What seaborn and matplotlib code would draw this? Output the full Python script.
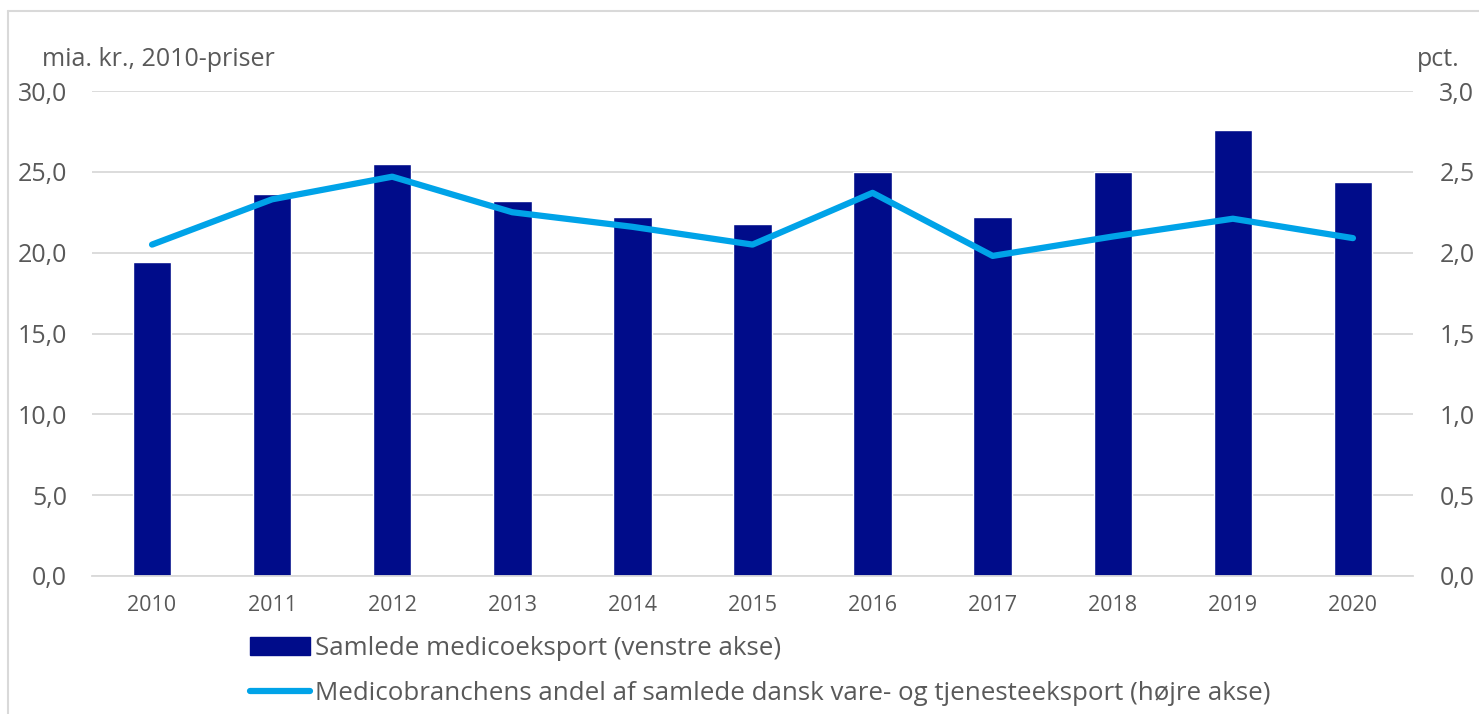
import matplotlib
matplotlib.use("Agg")
import matplotlib.pyplot as plt
import seaborn as sns
import pandas as pd
from matplotlib.lines import Line2D
from matplotlib.patches import Patch
from matplotlib.ticker import FuncFormatter, MultipleLocator

years = ['2010', '2011', '2012', '2013', '2014', '2015', '2016', '2017', '2018', '2019', '2020']
eksport = [19.4, 23.6, 25.5, 23.2, 22.2, 21.8, 25.0, 22.2, 25.0, 27.6, 24.4]
andel = [2.05, 2.33, 2.47, 2.25, 2.16, 2.05, 2.37, 1.98, 2.10, 2.21, 2.09]

bar_label = 'Samlede medicoeksport (venstre akse)'
line_label = 'Medicobranchens andel af samlede dansk vare- og tjenesteeksport (højre akse)'

navy = '#000C8A'
light = '#00A3E8'
grey = '#595959'

sns.set_theme(style='white')
plt.rcParams['font.family'] = ['Open Sans', 'DejaVu Sans']

df = pd.DataFrame({'year': years, 'eksport': eksport, 'andel': andel})

fig = plt.figure(figsize=(14.79, 7.14), dpi=100)
ax = fig.add_axes([92 / 1479, 1 - 576 / 714, (1413 - 92) / 1479, (576 - 91) / 714])

sns.barplot(data=df, x='year', y='eksport', color=navy, width=0.32, saturation=1, ax=ax)
ax.set_xlim(-0.5, 10.5)
ax.set_ylim(0, 30)
ax.yaxis.set_major_locator(MultipleLocator(5))
ax.yaxis.grid(True, color='#d9d9d9', linewidth=1.3)
ax.set_axisbelow(True)
ax.set_xlabel('')
ax.set_ylabel('')
for s in ax.spines.values():
    s.set_visible(False)
ax.spines['bottom'].set_visible(True)
ax.spines['bottom'].set_color('#d9d9d9')
ax.spines['bottom'].set_linewidth(1.3)

fmt = FuncFormatter(lambda v, p: f'{v:.1f}'.replace('.', ','))
ax.yaxis.set_major_formatter(fmt)
ax.tick_params(axis='y', labelsize=18, labelcolor=grey, pad=18, length=0)
ax.tick_params(axis='x', labelsize=15.5, labelcolor=grey, pad=14, length=0)

ax2 = ax.twinx()
sns.lineplot(x=list(range(len(years))), y=andel, color=light, linewidth=4.5, ax=ax2)
ax2.set_ylim(0, 3)
ax2.yaxis.set_major_locator(MultipleLocator(0.5))
ax2.yaxis.set_major_formatter(fmt)
ax2.tick_params(axis='y', labelsize=18, labelcolor=grey, pad=19, length=0)
for s in ax2.spines.values():
    s.set_visible(False)
ax2.grid(False)

fig.text(42 / 1479, 1 - 60 / 714, 'mia. kr., 2010-priser', fontsize=18, color=grey, va='center', ha='left')
fig.text(1417 / 1479, 1 - 60 / 714, 'pct.', fontsize=18, color=grey, va='center', ha='left')

handles = [Patch(facecolor=navy, edgecolor=navy), Line2D([0], [0], color=light, linewidth=4.5)]
fig.legend(handles, [bar_label, line_label], loc='upper left',
           bbox_to_anchor=(227 / 1479, 1 - 613 / 714), frameon=False, fontsize=18.6,
           labelcolor=grey, handlelength=2.3, handletextpad=0.2, labelspacing=0.75)

fig.add_artist(Line2D([8 / 1479, 8 / 1479], [0, 1 - 11 / 714], color='#d9d9d9', linewidth=1.5))
fig.add_artist(Line2D([8 / 1479, 1], [1 - 11 / 714, 1 - 11 / 714], color='#d9d9d9', linewidth=1.5))

fig.savefig('out.png', dpi=100)
